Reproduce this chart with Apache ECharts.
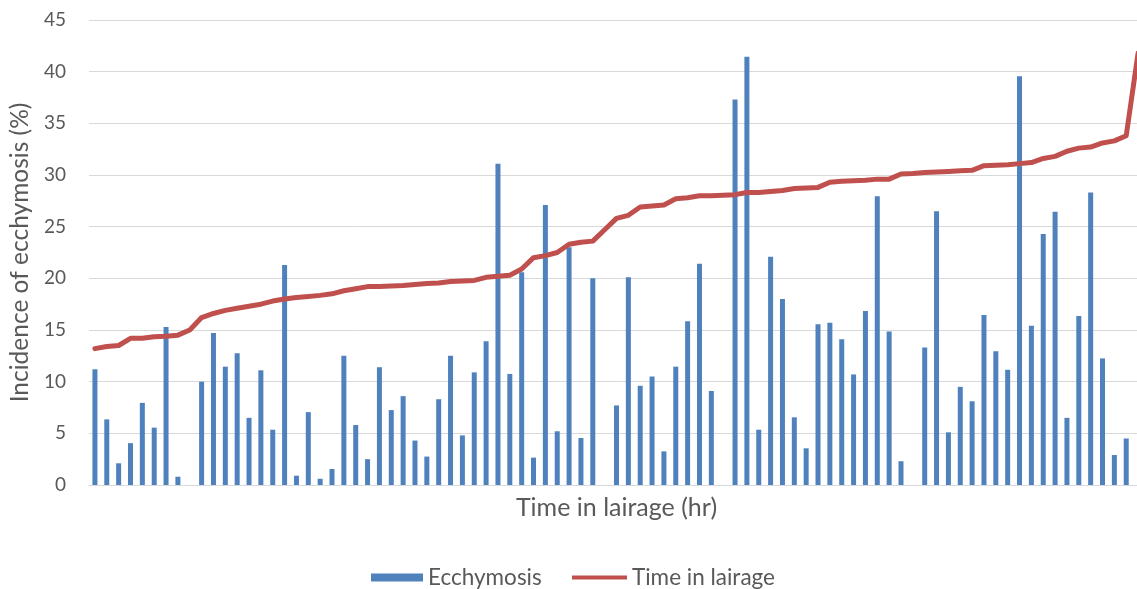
<!DOCTYPE html>
<html>
<head>
<meta charset="utf-8">
<title>Ecchymosis and time in lairage</title>
<script src="https://cdn.jsdelivr.net/npm/echarts@6/dist/echarts.min.js"></script>
<style>
  html, body { margin: 0; padding: 0; background: #ffffff; overflow: hidden; }
  /* the drawing surface is a few pixels wider than the window: the plot's
     last category falls just past the right edge */
  #chart { width: 1144px; height: 589px; }
</style>
</head>
<body>
<div id="chart"></div>
<script>
// Observations (ordered by time in lairage)
const observations = Array.from({ length: 89 }, (_, i) => String(i + 1));

// Incidence of ecchymosis (%) per observation
const ecchymosis = [
  11.2, 6.35, 2.1, 4.05, 7.95, 5.55, 15.3, 0.8, 0, 10.0,
  14.7, 11.45, 12.75, 6.5, 11.1, 5.35, 21.3, 0.9, 7.05, 0.6,
  1.55, 12.5, 5.8, 2.5, 11.4, 7.25, 8.6, 4.3, 2.75, 8.3,
  12.5, 4.8, 10.9, 13.9, 31.1, 10.75, 20.6, 2.65, 27.1, 5.2,
  23.0, 4.55, 20.0, 0, 7.7, 20.1, 9.6, 10.5, 3.25, 11.45,
  15.85, 21.4, 9.1, 0, 37.3, 41.45, 5.35, 22.1, 18.0, 6.55,
  3.55, 15.55, 15.7, 14.1, 10.7, 16.85, 27.95, 14.85, 2.3, 0,
  13.3, 26.5, 5.1, 9.5, 8.1, 16.45, 12.95, 11.15, 39.55, 15.4,
  24.3, 26.45, 6.5, 16.35, 28.3, 12.25, 2.9, 4.5, null
];

// Time in lairage (hr) per observation
const lairageTime = [
  13.2, 13.4, 13.5, 14.2, 14.2, 14.35, 14.4, 14.5, 15.0, 16.2,
  16.6, 16.9, 17.1, 17.3, 17.5, 17.8, 18.0, 18.15, 18.25, 18.35,
  18.5, 18.8, 19.0, 19.2, 19.2, 19.25, 19.3, 19.4, 19.5, 19.55,
  19.7, 19.75, 19.8, 20.1, 20.2, 20.3, 20.9, 22.0, 22.2, 22.5,
  23.3, 23.5, 23.6, 24.7, 25.8, 26.1, 26.9, 27.0, 27.1, 27.7,
  27.8, 28.0, 28.0, 28.05, 28.1, 28.3, 28.3, 28.4, 28.5, 28.7,
  28.75, 28.8, 29.3, 29.4, 29.45, 29.5, 29.6, 29.6, 30.1, 30.15,
  30.25, 30.3, 30.35, 30.4, 30.45, 30.9, 30.95, 31.0, 31.1, 31.2,
  31.6, 31.8, 32.3, 32.6, 32.7, 33.1, 33.3, 33.8, 41.8
];

// Value axis ticks
const yTicks = { min: 0, max: 45, interval: 5 };

const FONT = 'Lato, "Open Sans", sans-serif';
const TEXT = '#595959';
const BAR_COLOR = '#4f81bd';
const LINE_COLOR = '#c0504d';

const chart = echarts.init(document.getElementById('chart'), null, { renderer: 'canvas' });

const legendText = { fontFamily: FONT, fontSize: 22.5, color: TEXT };

chart.setOption({
  animation: false,
  backgroundColor: '#ffffff',
  textStyle: { fontFamily: FONT, color: TEXT },
  grid: { left: 89, right: 0, top: 20, bottom: 104, containLabel: false },
  legend: [
    {
      left: 371,
      top: 566,
      padding: 0,
      itemWidth: 52,
      itemHeight: 8,
      textStyle: legendText,
      data: [{ name: 'Ecchymosis', icon: 'rect' }]
    },
    {
      left: 572,
      top: 566,
      padding: 0,
      itemWidth: 55,
      itemHeight: 4,
      textStyle: legendText,
      data: [{ name: 'Time in lairage', icon: 'rect' }]
    }
  ],
  xAxis: {
    type: 'category',
    data: observations,
    boundaryGap: true,
    name: 'Time in lairage (hr)',
    nameLocation: 'middle',
    nameGap: 10,
    nameTextStyle: { fontFamily: FONT, fontSize: 25, color: TEXT },
    axisLine: { show: true, lineStyle: { color: '#d9d9d9', width: 1 } },
    axisTick: { show: false },
    axisLabel: { show: false },
    splitLine: { show: false }
  },
  yAxis: {
    type: 'value',
    min: yTicks.min,
    max: yTicks.max,
    interval: yTicks.interval,
    name: 'Incidence of ecchymosis (%)',
    nameLocation: 'middle',
    nameGap: 54,
    nameRotate: 90,
    nameTextStyle: { fontFamily: FONT, fontSize: 24.5, color: TEXT },
    axisLine: { show: false },
    axisTick: { show: false },
    axisLabel: { fontFamily: FONT, fontSize: 19, color: TEXT, margin: 23 },
    splitLine: { show: true, lineStyle: { color: '#d9d9d9', width: 1 } }
  },
  series: [
    {
      name: 'Ecchymosis',
      type: 'bar',
      data: ecchymosis,
      barWidth: 5,
      itemStyle: { color: BAR_COLOR },
      z: 2
    },
    {
      name: 'Time in lairage',
      type: 'line',
      data: lairageTime,
      symbol: 'none',
      smooth: false,
      lineStyle: { color: LINE_COLOR, width: 5, join: 'round', cap: 'round' },
      itemStyle: { color: LINE_COLOR },
      z: 3
    }
  ]
});
</script>
</body>
</html>
